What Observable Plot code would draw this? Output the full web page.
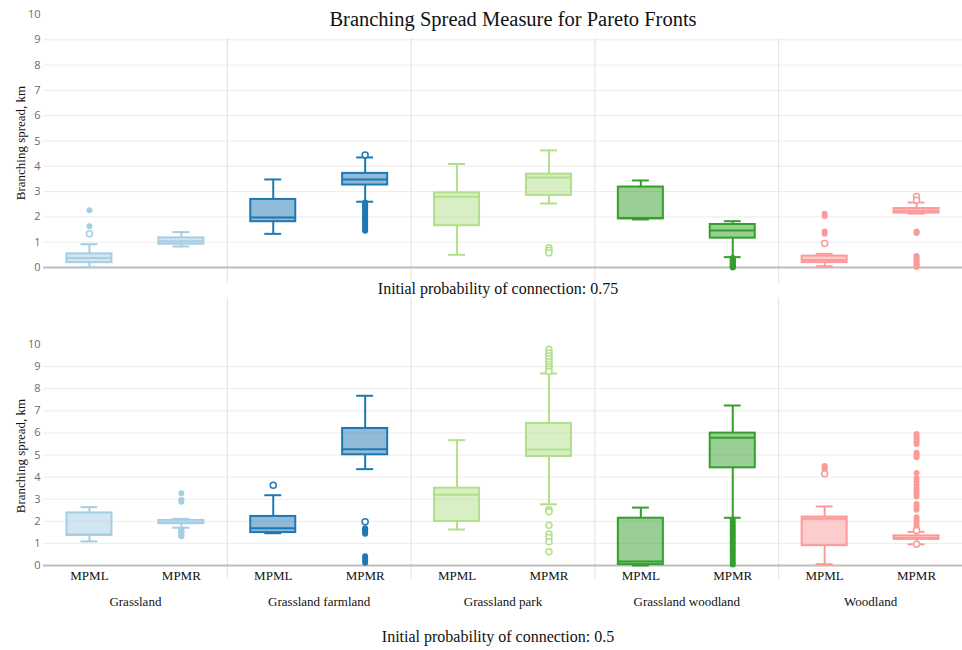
<!DOCTYPE html>
<html><head><meta charset="utf-8">
<script src="https://cdn.jsdelivr.net/npm/d3@7"></script>
<script src="https://cdn.jsdelivr.net/npm/@observablehq/plot@0.6"></script>
<style>
body{margin:0;background:#fff;}
#wrap{position:relative;width:962px;height:650px;overflow:hidden;font-family:"Liberation Serif","Times New Roman",serif;color:#111}
.abs{position:absolute;white-space:nowrap;line-height:1}
#wrap svg{position:absolute;left:0}
</style></head><body><div id="wrap"></div>
<script>
const groups = ["Grassland", "Grassland farmland", "Grassland park", "Grassland woodland", "Woodland"];
const methods = ["MPML", "MPMR"];
const colors = ["#a6cee3", "#1f78b4", "#b2df8a", "#33a02c", "#fb9a99"];
const yTicks = [0, 1, 2, 3, 4, 5, 6, 7, 8, 9, 10];
const gridTicks = [1, 2, 3, 4, 5, 6, 7, 8, 9];
const groupSeparators = [1.5, 3.5, 5.5, 7.5];

// per category (Grassland MPML, Grassland MPMR, Farmland MPML, ...): [lower whisker, q1, median, q3, upper whisker]
const statsP075 = [
  [0.01, 0.19, 0.38, 0.54, 0.92],
  [0.83, 0.92, 1.04, 1.17, 1.40],
  [1.33, 1.81, 1.98, 2.69, 3.48],
  [2.60, 3.26, 3.48, 3.72, 4.35],
  [0.50, 1.65, 2.80, 2.95, 4.09],
  [2.53, 2.85, 3.56, 3.69, 4.63],
  [1.90, 1.92, 1.96, 3.18, 3.44],
  [0.41, 1.16, 1.46, 1.70, 1.83],
  [0.05, 0.19, 0.30, 0.45, 0.54],
  [2.13, 2.15, 2.24, 2.33, 2.57]
];
const outliersP075 = [
  [2.26, 1.63],
  [],
  [],
  [2.57, 2.5, 2.44, 2.38, 2.31, 2.25, 2.19, 2.12, 2.05, 1.98, 1.92, 1.85, 1.78, 1.71, 1.64, 1.57, 1.5, 1.45],
  [],
  [],
  [],
  [0.38, 0.33, 0.28, 0.24, 0.2, 0.16, 0.12, 0.08, 0.05, 0.02, 0],
  [2.12, 2.04, 1.42, 1.33],
  [1.42, 1.36, 0.45, 0.38, 0.3, 0.22, 0.15, 0.08, 0.02]
];
const suspectedP075 = [
  [1.33], [], [], [4.45], [], [0.78, 0.68, 0.58], [], [], [0.95], [2.81, 2.66]
];

const statsP05 = [
  [1.09, 1.36, 1.40, 2.38, 2.64],
  [1.71, 1.89, 1.95, 2.04, 2.11],
  [1.46, 1.49, 1.69, 2.22, 3.18],
  [4.36, 5.01, 5.26, 6.20, 7.68],
  [1.63, 1.99, 3.20, 3.50, 5.67],
  [2.77, 4.93, 5.25, 6.43, 8.69],
  [0.00, 0.04, 0.18, 2.14, 2.62],
  [2.16, 4.42, 5.78, 5.99, 7.24],
  [0.06, 0.90, 2.12, 2.19, 2.67],
  [0.96, 1.18, 1.25, 1.34, 1.52]
];
const outliersP05 = [
  [],
  [3.27, 2.97, 2.88, 1.62, 1.55, 1.5, 1.44, 1.38, 1.32],
  [],
  [1.68, 1.62, 1.56, 1.5, 1.44, 0.42, 0.32, 0.22, 0.12],
  [],
  [],
  [],
  [2.08, 1.95, 1.82, 1.7, 1.58, 1.46, 1.34, 1.22, 1.1, 0.98, 0.86, 0.74, 0.62, 0.5, 0.38, 0.26, 0.14, 0.04],
  [4.5, 4.42, 4.35],
  [5.95, 5.85, 5.75, 5.62, 5.5, 5.1, 5.0, 4.9, 4.18, 3.95, 3.8, 3.65, 3.5, 3.38, 3.25, 3.12, 2.78, 2.66, 2.52, 2.18, 2.05, 1.92, 1.8, 1.68]
];
const suspectedP05 = [
  [], [], [3.63], [1.98], [],
  [9.78, 9.62, 9.48, 9.35, 9.22, 9.1, 8.98, 8.88, 8.78, 2.52, 2.43, 1.82, 1.43, 1.27, 1.08, 0.62],
  [], [], [4.15], [1.58, 0.96]
];

const BOX = 0.245, CAP = 0.092;

function rowsOf(stats) {
  return stats.map((s, i) => ({i, color: colors[Math.floor(i / 2)], lo: s[0], q1: s[1], med: s[2], q3: s[3], hi: s[4]}));
}
function pointsOf(lists) {
  return lists.flatMap((l, i) => l.map(v => ({i, v, color: colors[Math.floor(i / 2)]})));
}

function panel({stats, outs, susp, height, marginTop, marginBottom, sepTop, sepBottom, showX}) {
  const rows = rowsOf(stats);
  const marks = [
    Plot.gridY({ticks: gridTicks, stroke: "#ececec", strokeOpacity: 1}),
    Plot.ruleX(groupSeparators, {x: d => d, y1: sepTop, y2: sepBottom, stroke: "#e0e0e0"}),
    Plot.ruleY([0], {stroke: "#bdbdbd", strokeWidth: 2}),
    Plot.axisY({ticks: yTicks, tickSize: 0, tickPadding: 3, fontFamily: "Open Sans, sans-serif", fontSize: 11, fill: "#6b6b6b", label: null}),
    Plot.ruleX(rows, {x: "i", y1: "lo", y2: "q1", stroke: "color", strokeWidth: 2}),
    Plot.ruleX(rows, {x: "i", y1: "q3", y2: "hi", stroke: "color", strokeWidth: 2}),
    Plot.ruleY(rows, {y: "lo", x1: d => d.i - CAP, x2: d => d.i + CAP, stroke: "color", strokeWidth: 2}),
    Plot.ruleY(rows, {y: "hi", x1: d => d.i - CAP, x2: d => d.i + CAP, stroke: "color", strokeWidth: 2}),
    Plot.rect(rows, {x1: d => d.i - BOX, x2: d => d.i + BOX, y1: "q1", y2: "q3", fill: "color", fillOpacity: 0.5, stroke: "color", strokeWidth: 2}),
    Plot.ruleY(rows, {y: "med", x1: d => d.i - BOX, x2: d => d.i + BOX, stroke: "color", strokeWidth: 2}),
    Plot.dot(pointsOf(outs), {x: "i", y: "v", r: 3, fill: "color", stroke: null}),
    Plot.dot(pointsOf(susp), {x: "i", y: "v", r: 3, fill: "white", stroke: "color", strokeWidth: 1.5})
  ];
  if (showX) {
    marks.push(Plot.axisX({ticks: d3.range(10), tickFormat: i => methods[i % 2], tickSize: 0, tickPadding: 5, fontFamily: "Liberation Serif, serif", fontSize: 13, fill: "#111", label: null}));
    marks.push(Plot.axisX({ticks: [0.5, 2.5, 4.5, 6.5, 8.5], tickFormat: t => groups[Math.floor(t / 2)], tickSize: 0, tickPadding: 31, fontFamily: "Liberation Serif, serif", fontSize: 13, fill: "#111", label: null}));
  }
  return Plot.plot({
    width: 962, height, marginTop, marginBottom, marginLeft: 43, marginRight: 0,
    x: {type: "linear", domain: [-0.5, 9.5], axis: showX ? undefined : null},
    y: {domain: [0, 10]},
    color: {type: "identity"},
    style: {background: "transparent", overflow: "visible"},
    marks
  });
}

const wrap = document.getElementById("wrap");
const topPanel = panel({stats: statsP075, outs: outliersP075, susp: suspectedP075, height: 290, marginTop: 14, marginBottom: 23, sepTop: 9.05, sepBottom: -0.63, showX: false});
topPanel.style.top = "0px";
wrap.appendChild(topPanel);
const bottomPanel = panel({stats: statsP05, outs: outliersP05, susp: suspectedP05, height: 360, marginTop: 54, marginBottom: 85, sepTop: 12.1, sepBottom: -0.6, showX: true});
bottomPanel.style.top = "290px";
wrap.appendChild(bottomPanel);

function addText(txt, cx, cy, size, rotate) {
  const d = document.createElement("div");
  d.className = "abs";
  d.textContent = txt;
  d.style.fontSize = size + "px";
  d.style.left = cx + "px";
  d.style.top = cy + "px";
  d.style.transform = "translate(-50%,-50%)" + (rotate ? " rotate(-90deg)" : "");
  wrap.appendChild(d);
}
addText("Branching Spread Measure for Pareto Fronts", 513, 19, 20.5);
addText("Initial probability of connection: 0.75", 498, 289, 16);
addText("Initial probability of connection: 0.5", 498, 637, 16);
addText("Branching spread, km", 20, 143, 13);
document.querySelectorAll(".abs")[3].style.transform += " rotate(-90deg)";
addText("Branching spread, km", 20, 456, 13, true);
</script></body></html>
